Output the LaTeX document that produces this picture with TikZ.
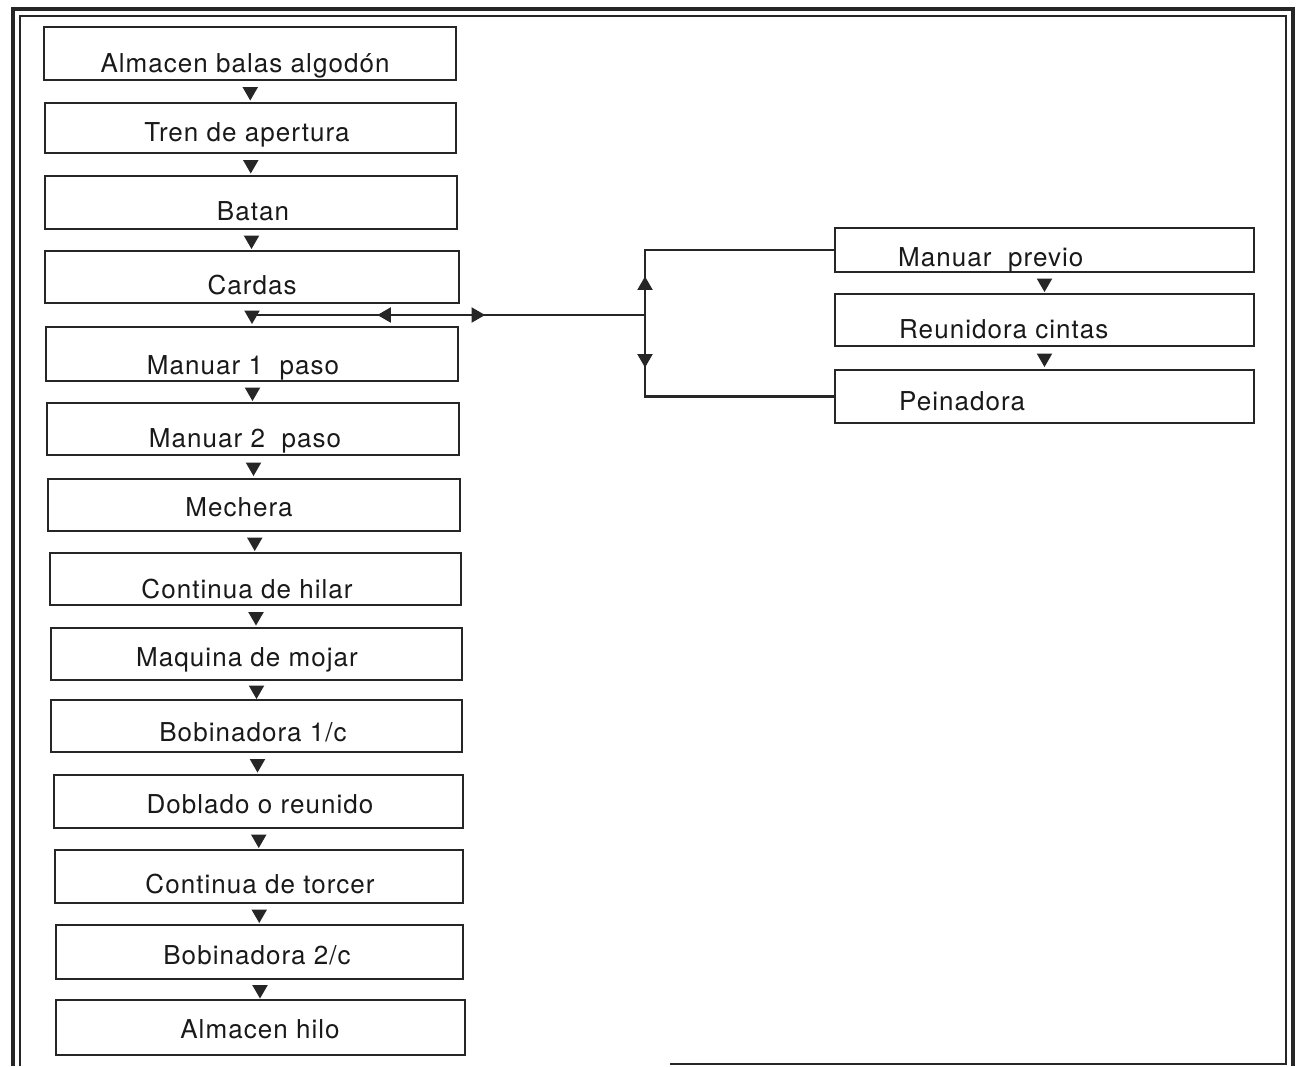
\documentclass[tikz,border=0pt]{standalone}
\usepackage{fontspec}
\setmainfont{TeX Gyre Heros}[LetterSpace=4.0]
\usetikzlibrary{shapes.geometric,fit,calc}
\begin{document}
\begin{tikzpicture}[x=1pt,y=-1pt,
  box/.style={draw=black!85, line width=2.6pt, inner sep=0pt, rectangle},
  lbl/.style={inner sep=0pt, anchor=base, font=\fontsize{26}{30}\selectfont, text=black!90},
  tri/.style={regular polygon, regular polygon sides=3, fill=black!85, draw=none, inner sep=0pt, minimum size=18pt},
  tridown/.style={tri, shape border rotate=180},
  triup/.style={tri},
  trileft/.style={tri, shape border rotate=90},
  triright/.style={tri, shape border rotate=-90},
  conn/.style={line width=2.2pt, draw=black!85},
  frameout/.style={line width=4pt, draw=black!85},
  framein/.style={line width=2pt, draw=black!85}]
\useasboundingbox (0,0) rectangle (1297,1066);
% frame
\draw[frameout] (13,1066) -- (13,9) -- (1293,9) -- (1293,1066);
\draw[framein] (20,1066) -- (20,16) -- (1286,16) -- (1286,1064) -- (670,1064);
% left column boxes
\node[box, fit={(44,27) (456,80)}] (b1) {};
\node[box, fit={(45,103) (456,153)}] (b2) {};
\node[box, fit={(45,176) (457,229)}] (b3) {};
\node[box, fit={(45,251) (459,303)}] (b4) {};
\node[box, fit={(46,327) (458,381)}] (b5) {};
\node[box, fit={(47,403) (459,455)}] (b6) {};
\node[box, fit={(48,479) (460,531)}] (b7) {};
\node[box, fit={(50,553) (461,605)}] (b8) {};
\node[box, fit={(51,628) (462,680)}] (b9) {};
\node[box, fit={(51,700) (462,752)}] (b10) {};
\node[box, fit={(54,775) (463,828)}] (b11) {};
\node[box, fit={(55,850) (463,903)}] (b12) {};
\node[box, fit={(56,925) (463,979)}] (b13) {};
\node[box, fit={(56,1000) (465,1055)}] (b14) {};
% right column boxes
\node[box, fit={(835,228) (1254,272)}] (mp) {};
\node[box, fit={(835,294) (1254,346)}] (rc) {};
\node[box, fit={(835,370) (1254,423)}] (pe) {};
% labels
\node[lbl] (t1) at (245,72) {Almacen balas algodón};
\node[lbl] (t2) at (247,141) {Tren de apertura};
\node[lbl] (t3) at (253,220) {Batan};
\node[lbl] (t4) at (252,294) {Cardas};
\node[lbl] (t5) at (243,374) {Manuar 1 \ paso};
\node[lbl] (t6) at (245,447) {Manuar 2 \ paso};
\node[lbl] (t7) at (239,516) {Mechera};
\node[lbl] (t8) at (247,598) {Continua de hilar};
\node[lbl] (t9) at (247,666) {Maquina de mojar};
\node[lbl] (t10) at (253,741) {Bobinadora 1/c};
\node[lbl] (t11) at (260,813) {Doblado o reunido};
\node[lbl] (t12) at (260,893) {Continua de torcer};
\node[lbl] (t13) at (257,964) {Bobinadora 2/c};
\node[lbl] (t14) at (260,1038) {Almacen hilo};
\node[lbl, anchor=base west] (t15) at (898,266) {Manuar \ previo};
\node[lbl, anchor=base west] (t16) at (899,338) {Reunidora cintas};
\node[lbl, anchor=base west] (t17) at (899,410) {Peinadora};
% flow arrows (left column)
\foreach \a/\b in {b1/b2,b2/b3,b3/b4,b4/b5,b5/b6,b6/b7,b7/b8,b8/b9,b9/b10,b10/b11,b11/b12,b12/b13,b13/b14}
  \path (\a.south) -- node[tridown] {} (\b.north);
% flow arrows (right column)
\path (mp.south) -- node[tridown] {} (rc.north);
\path (rc.south) -- node[tridown] {} (pe.north);
% branch to combing line
\coordinate (j0) at ($(b4.south)!0.5!(b5.north)$);
\coordinate (j) at ($(j0)+(393,0)$);
\draw[conn] (j0) -- node[pos=0.342, trileft] {} node[pos=0.57, triright] {} (j);
\draw[conn] (j) |- node[pos=0.227, triup] {} (mp.west);
\draw[conn] (j) |- node[pos=0.267, tridown] {} (pe.west);
\end{tikzpicture}
\end{document}
